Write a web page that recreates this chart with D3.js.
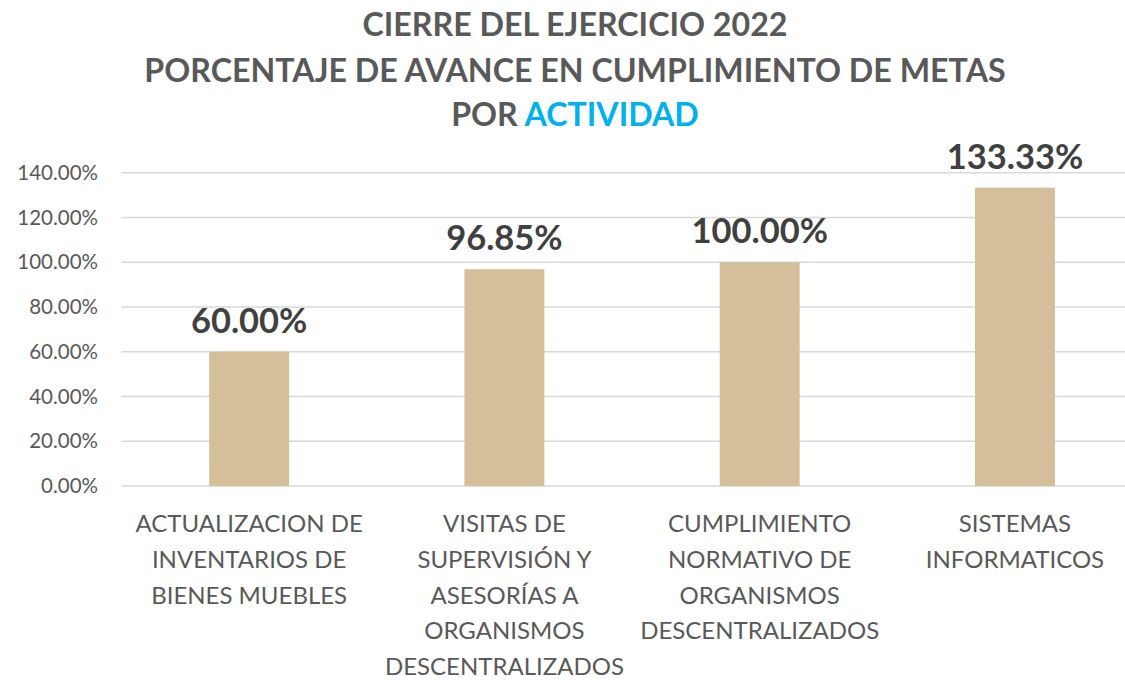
<!DOCTYPE html>
<html><head><meta charset="utf-8">
<script src="https://cdn.jsdelivr.net/npm/d3@7"></script>
<style>body{margin:0;background:#fff}svg{display:block}</style>
</head><body>
<svg id="c" width="1125" height="680"></svg>
<script>
const categories = [
  ["ACTUALIZACION DE","INVENTARIOS DE","BIENES MUEBLES"],
  ["VISITAS DE","SUPERVISIÓN Y","ASESORÍAS A","ORGANISMOS","DESCENTRALIZADOS"],
  ["CUMPLIMIENTO","NORMATIVO DE","ORGANISMOS","DESCENTRALIZADOS"],
  ["SISTEMAS","INFORMATICOS"]
];
const values = [0.60, 0.9685, 1.00, 1.3333];
const yTicks = [0, 0.2, 0.4, 0.6, 0.8, 1.0, 1.2, 1.4];

const svg = d3.select("#c");
const font = "Lato, 'Open Sans', sans-serif";
const x = d3.scaleBand().domain(d3.range(values.length)).range([121.5, 1142.6]).paddingInner(0.687).paddingOuter(0.3435);
const y = d3.scaleLinear().domain([0, 1.4]).range([486, 172.7]);

// grid
svg.append("g").selectAll("line").data(yTicks).join("line")
  .attr("x1", 121.5).attr("x2", 1142.6)
  .attr("y1", d => y(d)).attr("y2", d => y(d))
  .attr("stroke", "#d9d9d9").attr("stroke-width", 1.5);

// y axis labels
const yAxis = d3.axisLeft(y).tickValues(yTicks).tickSize(0).tickPadding(0).tickFormat(d3.format(".2%"));
const ya = svg.append("g").attr("transform", "translate(98,0)").call(yAxis);
ya.select(".domain").remove();
ya.selectAll("text").attr("font-family", font).attr("font-size", 20.5).attr("fill", "#595959");

// bars
svg.append("g").selectAll("rect").data(values).join("rect")
  .attr("x", (d, i) => x(i)).attr("width", x.bandwidth())
  .attr("y", d => y(d)).attr("height", d => y(0) - y(d))
  .attr("fill", "#d5bf9a");

// data labels
svg.append("g").selectAll("text").data(values).join("text")
  .attr("x", (d, i) => x(i) + x.bandwidth() / 2)
  .attr("y", d => y(d) - 19)
  .attr("text-anchor", "middle")
  .attr("font-family", font).attr("font-weight", "bold").attr("font-size", 34.5)
  .attr("fill", "#404040")
  .text(d => d3.format(".2%")(d));

// category labels
const cg = svg.append("g");
categories.forEach((lines, i) => {
  const t = cg.append("text").attr("text-anchor", "middle")
    .attr("font-family", font).attr("font-size", 24).attr("fill", "#595959");
  lines.forEach((l, j) => {
    t.append("tspan").attr("x", x(i) + x.bandwidth() / 2).attr("y", 532 + j * 35.8).text(l);
  });
});

// title
const tg = svg.append("g").attr("font-family", font).attr("font-weight", "bold")
  .attr("font-size", 32.2).attr("fill", "#595959").attr("text-anchor", "middle");
tg.append("text").attr("x", 575).attr("y", 36).text("CIERRE DEL EJERCICIO 2022");
tg.append("text").attr("x", 575).attr("y", 82).text("PORCENTAJE DE AVANCE EN CUMPLIMIENTO DE METAS");
const t3 = tg.append("text").attr("x", 575).attr("y", 126);
t3.append("tspan").text("POR ");
t3.append("tspan").attr("fill", "#00b0f0").text("ACTIVIDAD");
</script>
</body></html>
